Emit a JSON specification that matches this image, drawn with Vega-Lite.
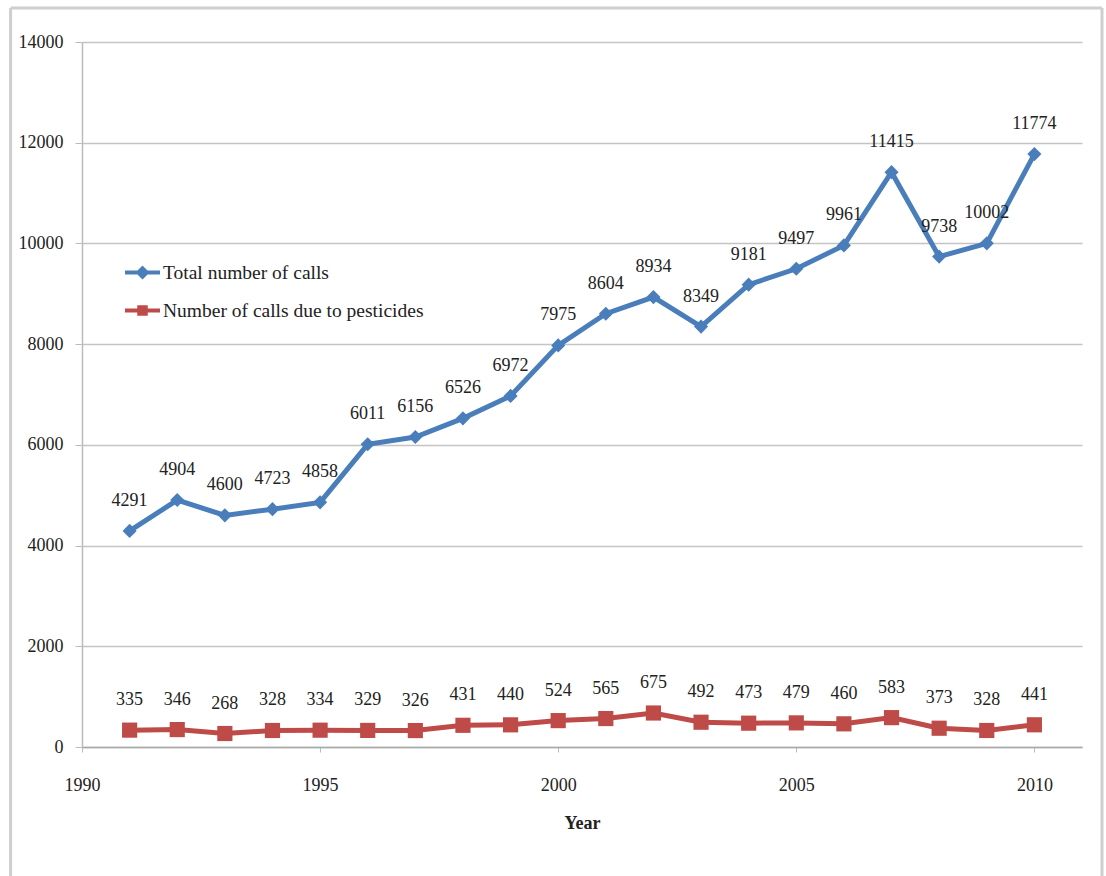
{
  "$schema": "https://vega.github.io/schema/vega-lite/v6.json",
  "width": 1000,
  "height": 705,
  "autosize": {"type": "none"},
  "padding": {"left": 82, "top": 42, "right": 24, "bottom": 129},
  "background": "white",
  "config": {
    "view": {"stroke": null},
    "font": "Liberation Serif",
    "axis": {"labelFont": "Liberation Serif", "titleFont": "Liberation Serif", "labelColor": "#222", "titleColor": "#222"}
  },
  "data": {"values": [
    {"year": 1991, "series": "Total number of calls", "calls": 4291},
    {"year": 1992, "series": "Total number of calls", "calls": 4904},
    {"year": 1993, "series": "Total number of calls", "calls": 4600},
    {"year": 1994, "series": "Total number of calls", "calls": 4723},
    {"year": 1995, "series": "Total number of calls", "calls": 4858},
    {"year": 1996, "series": "Total number of calls", "calls": 6011},
    {"year": 1997, "series": "Total number of calls", "calls": 6156},
    {"year": 1998, "series": "Total number of calls", "calls": 6526},
    {"year": 1999, "series": "Total number of calls", "calls": 6972},
    {"year": 2000, "series": "Total number of calls", "calls": 7975},
    {"year": 2001, "series": "Total number of calls", "calls": 8604},
    {"year": 2002, "series": "Total number of calls", "calls": 8934},
    {"year": 2003, "series": "Total number of calls", "calls": 8349},
    {"year": 2004, "series": "Total number of calls", "calls": 9181},
    {"year": 2005, "series": "Total number of calls", "calls": 9497},
    {"year": 2006, "series": "Total number of calls", "calls": 9961},
    {"year": 2007, "series": "Total number of calls", "calls": 11415},
    {"year": 2008, "series": "Total number of calls", "calls": 9738},
    {"year": 2009, "series": "Total number of calls", "calls": 10002},
    {"year": 2010, "series": "Total number of calls", "calls": 11774},
    {"year": 1991, "series": "Number of calls due to pesticides", "calls": 335},
    {"year": 1992, "series": "Number of calls due to pesticides", "calls": 346},
    {"year": 1993, "series": "Number of calls due to pesticides", "calls": 268},
    {"year": 1994, "series": "Number of calls due to pesticides", "calls": 328},
    {"year": 1995, "series": "Number of calls due to pesticides", "calls": 334},
    {"year": 1996, "series": "Number of calls due to pesticides", "calls": 329},
    {"year": 1997, "series": "Number of calls due to pesticides", "calls": 326},
    {"year": 1998, "series": "Number of calls due to pesticides", "calls": 431},
    {"year": 1999, "series": "Number of calls due to pesticides", "calls": 440},
    {"year": 2000, "series": "Number of calls due to pesticides", "calls": 524},
    {"year": 2001, "series": "Number of calls due to pesticides", "calls": 565},
    {"year": 2002, "series": "Number of calls due to pesticides", "calls": 675},
    {"year": 2003, "series": "Number of calls due to pesticides", "calls": 492},
    {"year": 2004, "series": "Number of calls due to pesticides", "calls": 473},
    {"year": 2005, "series": "Number of calls due to pesticides", "calls": 479},
    {"year": 2006, "series": "Number of calls due to pesticides", "calls": 460},
    {"year": 2007, "series": "Number of calls due to pesticides", "calls": 583},
    {"year": 2008, "series": "Number of calls due to pesticides", "calls": 373},
    {"year": 2009, "series": "Number of calls due to pesticides", "calls": 328},
    {"year": 2010, "series": "Number of calls due to pesticides", "calls": 441}
  ]},
  "encoding": {
    "x": {
      "field": "year", "type": "quantitative",
      "scale": {"domain": [1990, 2011], "nice": false, "zero": false},
      "axis": {
        "title": "Year", "titleFontSize": 18, "titleFontWeight": "bold", "titlePadding": 20,
        "values": [1990, 1995, 2000, 2005, 2010], "format": "d",
        "labelFontSize": 18, "labelPadding": 24, "labelFlush": false,
        "tickSize": 5, "tickColor": "#bbbbbb", "domainColor": "#a8a8a8", "domainWidth": 1.5,
        "grid": false
      }
    },
    "y": {
      "field": "calls", "type": "quantitative",
      "scale": {"domain": [0, 14000], "nice": false},
      "axis": {
        "title": null, "values": [0, 2000, 4000, 6000, 8000, 10000, 12000, 14000], "format": "d",
        "labelFontSize": 18, "labelPadding": 12, "tickSize": 7, "tickColor": "#bbbbbb",
        "domainColor": "#bbbbbb", "domainWidth": 1.5,
        "grid": true, "gridColor": "#c4c4c4", "gridWidth": 1.5
      }
    }
  },
  "layer": [
    {
      "data": {"values": [{"side": "left", "x1": 1988.5, "x2": 1988.5, "y1": 14675, "y2": -3000}, {"side": "right", "x1": 2011.42, "x2": 2011.42, "y1": 14675, "y2": -3000}, {"side": "top", "x1": 1988.5, "x2": 2011.42, "y1": 14675, "y2": 14675}]},
      "mark": {"type": "rule", "color": "#cfcfcf", "strokeWidth": 3, "clip": false},
      "encoding": {
        "x": {"field": "x1", "type": "quantitative"},
        "x2": {"field": "x2"},
        "y": {"field": "y1", "type": "quantitative"},
        "y2": {"field": "y2"}
      }
    },
    {
      "mark": {"type": "line", "strokeWidth": 5},
      "encoding": {
        "color": {
          "field": "series", "type": "nominal",
          "scale": {"domain": ["Total number of calls", "Number of calls due to pesticides"], "range": ["#4A7EBB", "#BE4B48"]},
          "legend": {
            "title": null, "orient": "none", "legendX": 43, "legendY": 213,
            "padding": 0, "symbolSize": 1225, "symbolStrokeWidth": 0, "symbolOpacity": 1,
            "labelFontSize": 19.5, "labelFont": "Liberation Serif", "labelColor": "#222", "labelOffset": 3,
            "rowPadding": 11, "labelLimit": 400,
            "encode": {"symbols": {"update": {
              "shape": {"signal": "datum.label === 'Total number of calls' ? 'M-1,-0.12H1V0.12H-1Z M-0.4,0L0,-0.4L0.4,0L0,0.4Z' : 'M-1,-0.12H1V0.12H-1Z M-0.3,-0.3H0.3V0.3H-0.3Z'"},
              "fill": {"scale": "color", "field": "value"},
              "strokeWidth": {"value": 0}
            }}}
          }
        }
      }
    },
    {
      "transform": [{"filter": "datum.series === 'Total number of calls'"}],
      "mark": {"type": "point", "filled": true, "opacity": 1, "shape": "diamond", "size": 200},
      "encoding": {
        "color": {"field": "series", "type": "nominal"}
      }
    },
    {
      "transform": [{"filter": "datum.series === 'Number of calls due to pesticides'"}],
      "mark": {"type": "point", "filled": true, "opacity": 1, "shape": "square", "size": 230},
      "encoding": {
        "color": {"field": "series", "type": "nominal"}
      }
    },
    {
      "mark": {"type": "text", "dy": -30, "baseline": "middle", "align": "center", "fontSize": 18, "font": "Liberation Serif", "color": "#222"},
      "encoding": {
        "text": {"field": "calls", "type": "quantitative", "format": "d"}
      }
    }
  ]
}
